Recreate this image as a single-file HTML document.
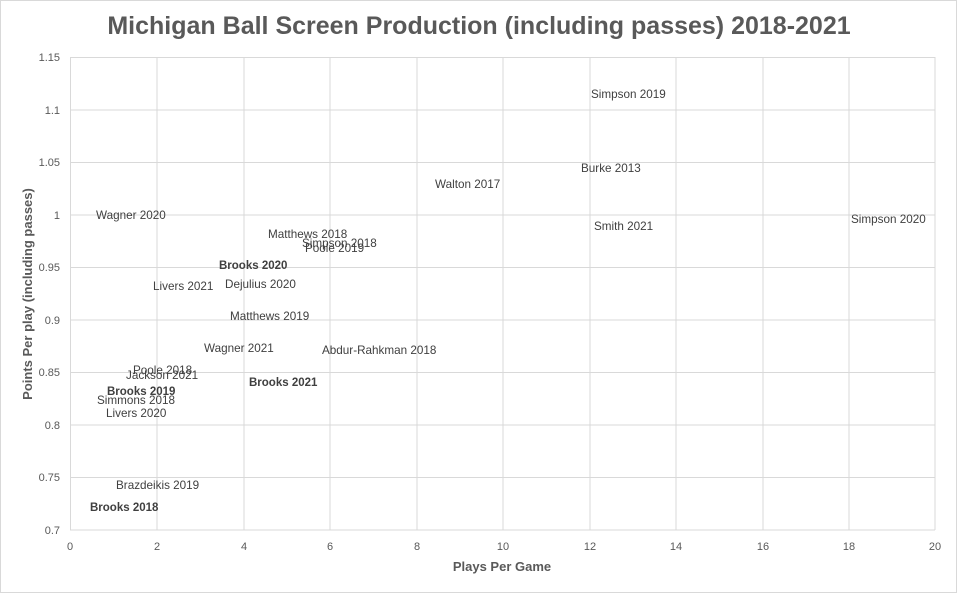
<!DOCTYPE html>
<html><head><meta charset="utf-8"><style>
body{margin:0;background:#fff}
svg{display:block}
text{font-family:"Liberation Sans",sans-serif}
</style></head><body>
<svg width="957" height="593" viewBox="0 0 957 593">
<rect x="0.5" y="0.5" width="956" height="592" fill="#fff" stroke="#d9d9d9"/>
<text x="479" y="34" text-anchor="middle" font-size="25" font-weight="bold" fill="#595959">Michigan Ball Screen Production (including passes) 2018-2021</text>
<g stroke="#d9d9d9" stroke-width="1">
<line x1="70" y1="57.5" x2="935" y2="57.5"/><line x1="70" y1="110" x2="935" y2="110"/>
<line x1="70" y1="162.5" x2="935" y2="162.5"/><line x1="70" y1="215" x2="935" y2="215"/>
<line x1="70" y1="267.5" x2="935" y2="267.5"/><line x1="70" y1="320" x2="935" y2="320"/>
<line x1="70" y1="372.5" x2="935" y2="372.5"/><line x1="70" y1="425" x2="935" y2="425"/>
<line x1="70" y1="477.5" x2="935" y2="477.5"/><line x1="70" y1="530" x2="935" y2="530"/>
<line x1="70.5" y1="57" x2="70.5" y2="530"/><line x1="157" y1="57" x2="157" y2="530"/>
<line x1="244" y1="57" x2="244" y2="530"/><line x1="330" y1="57" x2="330" y2="530"/>
<line x1="417" y1="57" x2="417" y2="530"/><line x1="503" y1="57" x2="503" y2="530"/>
<line x1="590" y1="57" x2="590" y2="530"/><line x1="676" y1="57" x2="676" y2="530"/>
<line x1="763" y1="57" x2="763" y2="530"/><line x1="849" y1="57" x2="849" y2="530"/>
<line x1="935" y1="57" x2="935" y2="530"/>
</g>
<g font-size="11" fill="#595959" text-anchor="end">
<text x="60" y="61">1.15</text><text x="60" y="114">1.1</text><text x="60" y="166">1.05</text>
<text x="60" y="219">1</text><text x="60" y="271">0.95</text><text x="60" y="324">0.9</text>
<text x="60" y="376">0.85</text><text x="60" y="429">0.8</text><text x="60" y="481">0.75</text>
<text x="60" y="534">0.7</text>
</g>
<g font-size="11" fill="#595959" text-anchor="middle">
<text x="70" y="550">0</text><text x="157" y="550">2</text><text x="244" y="550">4</text>
<text x="330" y="550">6</text><text x="417" y="550">8</text><text x="503" y="550">10</text>
<text x="590" y="550">12</text><text x="676" y="550">14</text><text x="763" y="550">16</text>
<text x="849" y="550">18</text><text x="935" y="550">20</text>
</g>
<text x="502" y="571" text-anchor="middle" font-size="13" font-weight="bold" fill="#595959">Plays Per Game</text>
<text transform="translate(32,294) rotate(-90)" text-anchor="middle" font-size="13" font-weight="bold" fill="#595959">Points Per play (including passes)</text>
<g font-size="11.7" fill="#404040">
<text x="591" y="98">Simpson 2019</text>
<text x="581" y="172">Burke 2013</text>
<text x="435" y="188">Walton 2017</text>
<text x="851" y="223">Simpson 2020</text>
<text x="594" y="230">Smith 2021</text>
<text x="96" y="219">Wagner 2020</text>
<text x="268" y="238">Matthews 2018</text>
<text x="302" y="247">Simpson 2018</text>
<text x="305" y="252">Poole 2019</text>
<text x="153" y="290">Livers 2021</text>
<text x="225" y="288">Dejulius 2020</text>
<text x="230" y="320">Matthews 2019</text>
<text x="204" y="352">Wagner 2021</text>
<text x="322" y="354">Abdur-Rahkman  2018</text>
<text x="133" y="374">Poole 2018</text>
<text x="126" y="379">Jackson 2021</text>
<text x="97" y="404">Simmons 2018</text>
<text x="106" y="417">Livers 2020</text>
<text x="116" y="489">Brazdeikis 2019</text>
</g>
<g font-size="11.5" fill="#404040" font-weight="bold">
<text x="219" y="269">Brooks 2020</text>
<text x="249" y="386">Brooks 2021</text>
<text x="107" y="395">Brooks 2019</text>
<text x="90" y="511">Brooks 2018</text>
</g>
</svg>
</body></html>
